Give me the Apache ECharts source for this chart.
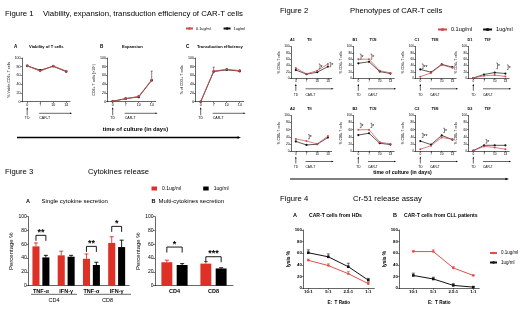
<!DOCTYPE html>
<html><head><meta charset="utf-8">
<script src="https://cdn.jsdelivr.net/npm/echarts@6/dist/echarts.min.js"></script>
<style>html,body{margin:0;padding:0;background:#fff}#c{width:520px;height:311px}</style>
</head><body><div id="c"></div>
<script>
// ================= DATA =================
const LOW = '0.1ug/ml', HIGH = '1ug/ml';
const days = ['0', '7', '10', '14'];
const ratios = ['10:1', '5:1', '2.5:1', '1:1'];

// Figure 1
const f1A_low = [82, 70, 82, 70];
const f1A_high = [82, 72, 81, 69];
const f1B_low = [1, 7, 12, 50];
const f1B_high = [1, 7, 11, 49];
const f1B_err = [0, 1, 2, 20];
const f1C_low = [0, 70, 74, 71];
const f1C_high = [0, 69, 73, 70];
const f1C_err = [0, 9, 2, 2];

// Figure 2 (row 1: CD4, row 2: CD8)
const f2A1_low = [32, 14, 24, 45];
const f2A1_high = [26, 13, 19, 37];
const f2B1_low = [60, 60, 24, 17];
const f2B1_high = [47, 52, 21, 15];
const f2C1_low = [5, 17, 42, 33];
const f2C1_high = [28, 19, 44, 35];
const f2D1_low = [1, 8, 10, 6];
const f2D1_high = [1, 12, 18, 15];
const f2A2_low = [34, 28, 20, 42];
const f2A2_high = [27, 17, 19, 38];
const f2B2_low = [60, 60, 25, 20];
const f2B2_high = [45, 50, 22, 18];
const f2C2_low = [5, 15, 38, 33];
const f2C2_high = [28, 18, 44, 32];
const f2D2_low = [1, 13, 10, 5];
const f2D2_high = [1, 16, 16, 16];
// significance: [dayIndex, from, to, label]
const f2A1_sig = [[2, 30, 45, '*'], [3, 36, 50, '*']];
const f2B1_sig = [[0, 60, 76, '*'], [1, 60, 76, '*']];
const f2C1_sig = [[0, 30, 45, '**']];
const f2D1_sig = [[2, 30, 48, '*'], [3, 28, 42, '*']];
const f2A2_sig = [[1, 34, 46, '*']];
const f2B2_sig = [[0, 66, 78, '*'], [1, 66, 78, '*']];
const f2C2_sig = [[0, 38, 50, '**'], [2, 52, 64, '*']];
const f2D2_sig = [[1, 22, 32, '*']];

// Figure 3
const f3A_cats = ['TNF-\u03b1', 'IFN-\u03b3', 'TNF-\u03b1', 'IFN-\u03b3'];
const f3A_groups = ['CD4', 'CD8'];
const f3A_low = [57, 44, 39, 62];
const f3A_lowErr = [5, 6, 7, 9];
const f3A_high = [41, 42, 30, 56];
const f3A_highErr = [3, 2, 4, 10];
const f3A_sig = [[0, 73, '**'], [2, 57, '**'], [3, 86, '*']];
const f3B_cats = ['CD4', 'CD8'];
const f3B_low = [34, 32];
const f3B_lowErr = [3, 3];
const f3B_high = [30, 25];
const f3B_highErr = [2, 1];
const f3B_sig = [[0, 56, '*'], [1, 42, '***']];

// Figure 4
const f4A_low = [48, 39, 25, 8];
const f4A_lowErr = [2, 3, 4, 2];
const f4A_high = [61, 54, 37, 14];
const f4A_highErr = [5, 5, 6, 3];
const f4B_low = [63, 63, 35, 22];
const f4B_lowErr = [2, 3, 2, 1];
const f4B_high = [22, 16, 5, 2];
const f4B_highErr = [4, 3, 3, 1];

// ================= STYLE / LAYOUT =================
const FONT = '"Liberation Sans", Arial, Helvetica, sans-serif';
const RED = '#dd3027', RED_L = '#cc4b4b', BLK = '#111111';
const grids = [], xAxes = [], yAxes = [], series = [], graphics = [], legends = [];

function txt(x, y, s, fs, o) {
  o = o || {};
  graphics.push({
    type: 'text', x: x, y: y, rotation: o.rot || 0, silent: true,
    style: {
      text: s, fontSize: fs, fontFamily: FONT, fontWeight: o.b ? 'bold' : 'normal',
      fill: o.c || '#000', align: o.a || 'left', verticalAlign: 'middle', rich: o.rich
    }
  });
}
function seg(x1, y1, x2, y2, w) {
  graphics.push({ type: 'line', silent: true, shape: { x1: x1, y1: y1, x2: x2, y2: y2 }, style: { stroke: '#000', lineWidth: w || 0.6 } });
}
function arrowRight(x1, x2, y, w, h) {
  seg(x1, y, x2 - h, y, w);
  graphics.push({ type: 'polygon', silent: true, shape: { points: [[x2, y], [x2 - h * 1.6, y - h * 0.6], [x2 - h * 1.6, y + h * 0.6]] }, style: { fill: '#000' } });
}
function arrowUp(x, y1, y2, w, h) {
  seg(x, y1, x, y2 + h, w);
  graphics.push({ type: 'polygon', silent: true, shape: { points: [[x, y2], [x - h * 0.6, y2 + h * 1.6], [x + h * 0.6, y2 + h * 1.6]] }, style: { fill: '#000' } });
}

function axStyle(fs, bold, tick) {
  return {
    axisLine: { show: true, onZero: false, lineStyle: { color: '#000', width: 0.6 } },
    axisTick: { show: true, length: tick || 1.5, lineStyle: { color: '#000', width: 0.5 } },
    splitLine: { show: false },
    axisLabel: { fontSize: fs, color: '#000', fontFamily: FONT, fontWeight: bold ? 'bold' : 'normal', margin: 1.5 }
  };
}

// line panel: l = y-axis x, s = spacing between points, p/q = padding in units
function linePanel(g, cats, fs, yName, nameFs, nameGap, bold) {
  const i = grids.length;
  const w = (3 + g.p + g.q) * g.s;
  grids.push({ left: g.l, top: g.t, width: w, height: g.h });
  const xa = Object.assign({ gridIndex: i, type: 'value', min: -g.p, max: 3 + g.q }, axStyle(fs, bold));
  xa.axisTick.customValues = [0, 1, 2, 3];
  xa.axisLabel.customValues = [0, 1, 2, 3];
  xa.axisLabel.formatter = function (v) { return cats[Math.round(v)]; };
  xAxes.push(xa);
  const ya = Object.assign({ gridIndex: i, type: 'value', min: 0, max: 100, interval: 20 }, axStyle(fs, bold));
  ya.name = yName; ya.nameLocation = 'middle'; ya.nameRotate = 90; ya.nameGap = nameGap;
  ya.nameTextStyle = { fontSize: nameFs, fontFamily: FONT, color: '#000', fontWeight: bold ? 'bold' : 'normal' };
  yAxes.push(ya);
  return i;
}
function lineSeries(i, name, vals, color, sym, size, lw, z) {
  series.push({
    type: 'line', name: name, xAxisIndex: i, yAxisIndex: i, data: vals.map(function (v, k) { return [k, v]; }),
    symbol: sym, symbolSize: size, showSymbol: true, z: z || 2,
    lineStyle: { color: color, width: lw }, itemStyle: { color: color }, animation: false
  });
}
function errSeries(i, vals, errs, color, offFrac, lw, cap) {
  series.push({
    type: 'custom', xAxisIndex: i, yAxisIndex: i, silent: true, z: 1, animation: false,
    data: vals.map(function (v, k) { return [k, v, errs[k]]; }),
    renderItem: function (params, api) {
      const x = api.value(0), v = api.value(1), e = api.value(2);
      if (!e) return;
      const p0 = api.coord([x, v]), p1 = api.coord([x, v + e]);
      const dx = offFrac ? api.size([1, 0])[0] * offFrac : 0;
      const X = p0[0] + dx;
      return { type: 'group', children: [
        { type: 'line', shape: { x1: X, y1: p0[1], x2: X, y2: p1[1] }, style: { stroke: color, lineWidth: lw } },
        { type: 'line', shape: { x1: X - cap, y1: p1[1], x2: X + cap, y2: p1[1] }, style: { stroke: color, lineWidth: lw } }
      ] };
    }
  });
}
function vSigSeries(i, items) {
  series.push({
    type: 'custom', xAxisIndex: i, yAxisIndex: i, silent: true, z: 3, animation: false,
    data: items.map(function (d) { return [d[0], d[1], d[2]]; }),
    renderItem: function (params, api) {
      const a = api.coord([api.value(0), api.value(1)]), b = api.coord([api.value(0), api.value(2)]);
      const X = a[0] + 1.5;
      return { type: 'group', children: [
        { type: 'polyline', shape: { points: [[X, a[1]], [X + 1.3, a[1]], [X + 1.3, b[1]], [X, b[1]]] }, style: { stroke: '#000', fill: null, lineWidth: 0.5 } },
        { type: 'text', style: { text: items[params.dataIndex][3], x: X + 1.8, y: (a[1] + b[1]) / 2 + 1, fontSize: 5, fontFamily: FONT, fill: '#000', verticalAlign: 'middle' } }
      ] };
    }
  });
}
function hSigSeries(i, items, off) {
  series.push({
    type: 'custom', xAxisIndex: i, yAxisIndex: i, silent: true, z: 3, animation: false,
    data: items.map(function (d) { return [d[0], d[1]]; }),
    renderItem: function (params, api) {
      const band = api.size([1, 0])[0];
      const p = api.coord([api.value(0), api.value(1)]);
      const x1 = p[0] - band * off, x2 = p[0] + band * off, Y = p[1];
      return { type: 'group', children: [
        { type: 'polyline', shape: { points: [[x1, Y + 5.5], [x1, Y], [x2, Y], [x2, Y + 5.5]] }, style: { stroke: '#000', fill: null, lineWidth: 0.9 } },
        { type: 'text', style: { text: items[params.dataIndex][2], x: (x1 + x2) / 2, y: Y + 1.5, align: 'center', verticalAlign: 'bottom', fontSize: 9, fontWeight: 'bold', fontFamily: FONT, fill: '#000' } }
      ] };
    }
  });
}
function underAxis(g, lineOff, textOff, fs) {
  const B = g.t + g.h;
  const x0 = g.l + g.p * g.s, x1 = g.l + (g.p + 1) * g.s, xr = g.l + (3 + g.p + g.q) * g.s + 2;
  arrowUp(x0, B + lineOff + 2, B + 5.5, 0.6, 1.3);
  txt(x0, B + textOff, 'TD', fs, { a: 'center' });
  arrowRight(x1 - 1, xr, B + lineOff, 0.6, 1.3);
  txt(x1 - 1, B + textOff, 'CAR-T', fs);
}

// ================= FIGURE 1 =================
txt(5, 13.5, 'Figure 1', 7.8);
txt(43, 13.5, 'Viability, expansion, transduction efficiency of CAR-T cells', 7.8);
const g1 = [
  { l: 22, t: 58, h: 43.7, s: 13, p: 0.4, q: 0.3 },
  { l: 107.5, t: 58, h: 43.7, s: 13, p: 0.4, q: 0.3 },
  { l: 195.5, t: 58, h: 43.7, s: 13, p: 0.4, q: 0.3 }
];
const f1Titles = [['A', 'Viability of T cells', 14, 29], ['B', 'Expansion', 100, 122], ['C', 'Transduction efficiency', 186, 197]];
const f1YNames = ['% Viable CD3+ T cells', 'CD3+ T cells (\u00d710\u2076)', '% of CD3+ T cells'];
const f1Low = [f1A_low, f1B_low, f1C_low], f1High = [f1A_high, f1B_high, f1C_high];
const f1Err = [null, f1B_err, f1C_err];
g1.forEach(function (g, k) {
  const i = linePanel(g, days, 3.6, f1YNames[k], 3.6, 10);
  lineSeries(i, HIGH, f1High[k], BLK, 'circle', 2.6, 0.8, 2);
  lineSeries(i, LOW, f1Low[k], RED_L, 'circle', 2.2, 0.9, 3);
  if (f1Err[k]) errSeries(i, f1Low[k], f1Err[k], BLK, 0, 0.5, 1);
  txt(f1Titles[k][2], 46.5, f1Titles[k][0], 4.6, { b: true });
  txt(f1Titles[k][3], 46.5, f1Titles[k][1], 4.1, { b: true });
  underAxis(g, 11.6, 16, 3.6);
});
legends.push({ left: 185, top: 26.5, itemWidth: 7, itemHeight: 3, itemGap: 12, padding: 0, selectedMode: false,
  textStyle: { fontSize: 3.8, fontFamily: FONT, color: '#000', padding: [0, 0, 0, -2] }, data: [LOW, HIGH] });
txt(135.5, 129.7, 'time of culture (in days)', 5.8, { b: true, a: 'center' });
arrowRight(17, 241, 137.5, 1.3, 2.2);

// ================= FIGURE 2 =================
txt(280, 10.5, 'Figure 2', 7.7);
txt(350, 10.5, 'Phenotypes of CAR-T cells', 7.7);
const f2Lefts = [291, 353.5, 415.5, 468.5];
const f2Rows = [{ t: 46.5, h: 31.8 }, { t: 115.5, h: 35.5 }];
const f2Low = [[f2A1_low, f2B1_low, f2C1_low, f2D1_low], [f2A2_low, f2B2_low, f2C2_low, f2D2_low]];
const f2High = [[f2A1_high, f2B1_high, f2C1_high, f2D1_high], [f2A2_high, f2B2_high, f2C2_high, f2D2_high]];
const f2Sig = [[f2A1_sig, f2B1_sig, f2C1_sig, f2D1_sig], [f2A2_sig, f2B2_sig, f2C2_sig, f2D2_sig]];
const f2Letters = ['A', 'B', 'C', 'D'];
const f2Subs = ['N', 'CM', 'EM', 'EF'];
const f2YNames = ['% CD4+ T cells', '% CD8+ T cells'];
f2Rows.forEach(function (row, r) {
  f2Lefts.forEach(function (l, k) {
    const g = { l: l, t: row.t, h: row.h, s: 10.7, p: 0.45, q: 0.35 };
    const i = linePanel(g, days, 3.2, f2YNames[r], 3.2, 9);
    lineSeries(i, HIGH, f2High[r][k], BLK, 'circle', 2.2, 0.7, 2);
    lineSeries(i, LOW, f2Low[r][k], RED_L, 'circle', 2, 0.7, 3);
    vSigSeries(i, f2Sig[r][k]);
    txt(l - 1, row.t - 7, f2Letters[k] + (r + 1), 3.8, { b: true });
    txt(l + 16, row.t - 7, '{t|T}{s|' + f2Subs[k] + '}', 4, { rich: { t: { fontSize: 4.2, fontFamily: FONT, fontWeight: 'bold' }, s: { fontSize: 2.8, fontFamily: FONT, fontWeight: 'bold', verticalAlign: 'bottom', padding: [2, 0, 0, 0] } } });
    underAxis(g, 10.5, 16.5, 3.2);
  });
});
legends.push({ left: 437, top: 26.5, itemWidth: 9, itemHeight: 4, itemGap: 10, padding: 0, selectedMode: false,
  textStyle: { fontSize: 5.5, fontFamily: FONT, color: '#000', padding: [0, 0, 0, -1] }, data: [LOW, HIGH] });
txt(402.5, 173, 'time of culture (in days)', 5.2, { b: true, a: 'center' });
arrowRight(290, 509, 179, 1.2, 2.2);

// ================= FIGURE 3 =================
txt(5, 171.5, 'Figure 3', 7.7);
txt(88, 171.5, 'Cytokines release', 7.7);
legends.push({ left: 151.5, top: 186, itemWidth: 5.5, itemHeight: 4, itemGap: 22, padding: 0, selectedMode: false,
  textStyle: { fontSize: 5, fontFamily: FONT, color: '#000' },
  data: [{ name: LOW, icon: 'rect', itemStyle: { color: RED } }, { name: HIGH, icon: 'rect', itemStyle: { color: '#000' } }] });

function barPanel(l, t, w, h, cats, low, lowErr, high, highErr, sig) {
  const i = grids.length;
  grids.push({ left: l, top: t, width: w, height: h });
  const xa = Object.assign({ gridIndex: i, type: 'category', data: cats }, axStyle(5.5, true, 0));
  xa.axisTick = { show: false };
  xa.axisLabel.margin = 2.5;
  xAxes.push(xa);
  const ya = Object.assign({ gridIndex: i, type: 'value', min: 0, max: 100, interval: 20 }, axStyle(5, false, 2));
  ya.name = 'Percentage %'; ya.nameLocation = 'middle'; ya.nameRotate = 90; ya.nameGap = 11;
  ya.nameTextStyle = { fontSize: 6, fontFamily: FONT, color: '#000' };
  yAxes.push(ya);
  series.push({ type: 'bar', name: LOW, xAxisIndex: i, yAxisIndex: i, data: low, barWidth: '28%', barGap: '40%', itemStyle: { color: RED }, animation: false });
  series.push({ type: 'bar', name: HIGH, xAxisIndex: i, yAxisIndex: i, data: high, barWidth: '28%', barGap: '40%', itemStyle: { color: '#000' }, animation: false });
  const off = 0.28 * 1.4 / 2;
  errSeries(i, low, lowErr, RED, -off, 0.9, 2);
  errSeries(i, high, highErr, '#000', off, 0.9, 2);
  series[series.length - 1].z = 3; series[series.length - 2].z = 3;
  hSigSeries(i, sig, off);
  return i;
}
barPanel(28.3, 216.7, 101, 69, f3A_cats, f3A_low, f3A_lowErr, f3A_high, f3A_highErr, f3A_sig);
barPanel(155, 216.7, 78, 69, f3B_cats, f3B_low, f3B_lowErr, f3B_high, f3B_highErr, f3B_sig);
txt(26, 201.7, 'A', 5.5, { b: true });
txt(41.5, 201.7, 'Single cytokine secretion', 6);
txt(151.5, 201.7, 'B', 5.5, { b: true });
txt(158.5, 201.7, 'Multi-cytokines secretion', 6);
seg(31, 294.3, 77, 294.3, 0.6);
seg(84, 294.3, 131, 294.3, 0.6);
txt(54, 300, f3A_groups[0], 5.5, { a: 'center' });
txt(107.5, 300, f3A_groups[1], 5.5, { a: 'center' });

// ================= FIGURE 4 =================
txt(280, 199, 'Figure 4', 7.7);
txt(353, 199, 'Cr-51 release assay', 7.7);
const g4 = [
  { l: 303.3, t: 230, h: 58.3, s: 20, p: 0.25, q: 0.3 },
  { l: 399.3, t: 230, h: 58.3, s: 20, p: 0.7, q: 0.3 }
];
const f4Low = [f4A_low, f4B_low], f4LowErr = [f4A_lowErr, f4B_lowErr];
const f4High = [f4A_high, f4B_high], f4HighErr = [f4A_highErr, f4B_highErr];
const f4Titles = [['A', 'CAR-T cells from HDs', 293, 309], ['B', 'CAR-T cells from CLL patients', 393, 404]];
g4.forEach(function (g, k) {
  const i = linePanel(g, ratios, 4.3, 'lysis %', 4.8, 8, true);
  errSeries(i, f4High[k], f4HighErr[k], BLK, 0, 0.6, 1.5);
  errSeries(i, f4Low[k], f4LowErr[k], RED_L, 0, 0.6, 1.5);
  lineSeries(i, HIGH, f4High[k], BLK, 'rect', 2.6, 1, 2);
  lineSeries(i, LOW, f4Low[k], '#e0504a', 'circle', 2.6, 1, 3);
  txt(f4Titles[k][2], 215.7, f4Titles[k][0], 5.5, { b: true });
  txt(f4Titles[k][3], 215.7, f4Titles[k][1], 5.1, { b: true });
  const cx = g.l + (3 + g.p + g.q) * g.s / 2;
  txt(cx, 302.5, 'E:  T Ratio', 4.6, { b: true, a: 'center' });
});
legends.push({ left: 489, top: 250.5, orient: 'vertical', itemWidth: 7, itemHeight: 3, itemGap: 4.5, padding: 0, selectedMode: false,
  textStyle: { fontSize: 4.5, fontFamily: FONT, color: '#000', padding: [0, 0, 0, -1] },
  data: [{ name: LOW, itemStyle: { color: '#e0504a' }, lineStyle: { color: '#e0504a' } }, { name: HIGH }] });

// ================= RENDER =================
const chart = echarts.init(document.getElementById('c'), null, { renderer: 'canvas' });
chart.setOption({
  animation: false,
  backgroundColor: '#ffffff',
  textStyle: { fontFamily: FONT },
  grid: grids, xAxis: xAxes, yAxis: yAxes, series: series, legend: legends,
  graphic: { elements: graphics }
});
</script></body></html>
